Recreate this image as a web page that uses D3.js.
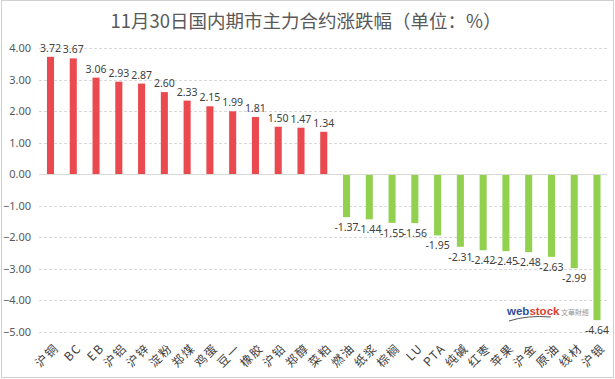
<!DOCTYPE html>
<html>
<head>
<meta charset="utf-8">
<script src="https://cdn.jsdelivr.net/npm/d3@7"></script>
<style>
  body { margin: 0; background: #fff; }
  svg { display: block; font-family: "Noto Sans CJK SC", "Noto Sans", sans-serif; }
</style>
</head>
<body>
<div id="chart"></div>
<script>
const w = 615,
      h = 379;
const categories = ['沪铜', 'BC', 'EB', '沪铝', '沪锌', '淀粉', '郑煤', '鸡蛋', '豆一', '橡胶', '沪铅', '郑醇', '菜粕',
                    '燃油', '纸浆', '棕榈', 'LU', 'PTA', '纯碱', '红枣', '苹果', '沪金', '原油', '线材', '沪银'];
const values = [3.72, 3.67, 3.06, 2.93, 2.87, 2.60, 2.33, 2.15, 1.99, 1.81, 1.50, 1.47, 1.34,
                -1.37, -1.44, -1.55, -1.56, -1.95, -2.31, -2.42, -2.45, -2.48, -2.63, -2.99, -4.64];
const yTicks = [4, 3, 2, 1, 0, -1, -2, -3, -4, -5];

const svg = d3.select('#chart').append('svg')
              .attr('width', w)
              .attr('height', h);

// outer frame
svg.append('rect')
   .attr('x', 1.5).attr('y', 0.5)
   .attr('width', w - 3).attr('height', h - 2)
   .attr('fill', '#fff')
   .attr('stroke', '#d0d0d0');

svg.append('text')
   .attr('x', 306).attr('y', 28)
   .attr('text-anchor', 'middle')
   .attr('font-size', 18.5)
   .attr('fill', '#595959')
   .text('11月30日国内期市主力合约涨跌幅（单位：%）');

const x = d3.scaleBand()
            .domain(categories)
            .range([39, 608.5])
            .paddingInner(0.69)
            .paddingOuter(0.35);

const y = d3.scaleLinear()
            .domain([-5, 4])
            .range([331.5, 48]);

// gridlines
svg.append('g')
   .selectAll('line')
   .data(yTicks.filter(d => d !== 0))
   .enter()
   .append('line')
   .attr('x1', 39).attr('x2', 607)
   .attr('y1', d => Math.round(y(d)) + 0.5)
   .attr('y2', d => Math.round(y(d)) + 0.5)
   .attr('stroke', '#d9d9d9')
   .attr('stroke-dasharray', '3,2');

// y axis labels
const yAxis = d3.axisLeft(y).tickValues(yTicks).tickSize(0).tickPadding(0).tickFormat(d3.format('.2f'));
const gy = svg.append('g').attr('transform', 'translate(31,0)').call(yAxis);
gy.select('.domain').remove();
gy.selectAll('text')
  .attr('font-size', 11)
  .attr('fill', '#595959')
  .attr('font-family', '"Noto Sans", sans-serif');

// bars
svg.append('g')
   .selectAll('rect')
   .data(values)
   .enter()
   .append('rect')
   .attr('x', (d, i) => x(categories[i]))
   .attr('width', x.bandwidth())
   .attr('y', d => d > 0 ? y(d) : y(0))
   .attr('height', d => Math.abs(y(d) - y(0)))
   .attr('fill', d => d > 0 ? '#ea4a4f' : '#92d050');

// zero line
svg.append('line')
   .attr('x1', 39).attr('x2', 607)
   .attr('y1', Math.round(y(0)) + 0.5).attr('y2', Math.round(y(0)) + 0.5)
   .attr('stroke', '#d9d9d9');

// value labels
svg.append('g')
   .selectAll('text')
   .data(values)
   .enter()
   .append('text')
   .attr('x', (d, i) => x(categories[i]) + x.bandwidth() / 2)
   .attr('y', d => d > 0 ? y(d) - 5 : y(d) + 14)
   .attr('text-anchor', 'middle')
   .attr('font-size', 10.5)
   .attr('fill', '#404040')
   .attr('font-family', '"Noto Sans", sans-serif')
   .text(d => d.toFixed(2));

// x labels, rotated
svg.append('g')
   .selectAll('text')
   .data(categories)
   .enter()
   .append('text')
   .attr('transform', d => `translate(${x(d) + x.bandwidth() / 2 + 6},346) rotate(-45)`)
   .attr('text-anchor', 'end')
   .attr('dy', '0.35em')
   .attr('font-size', 12)
   .attr('letter-spacing', 1.5)
   .attr('fill', '#404040')
   .text(d => d);

// watermark
const wm = svg.append('g').attr('transform', 'translate(507,315)');
wm.append('text')
  .attr('font-family', '"Liberation Sans", sans-serif')
  .attr('font-weight', 'bold')
  .attr('font-size', 11.5)
  .selectAll('tspan')
  .data([['web', '#2b4f9e'], ['stock', '#e03c31']])
  .enter()
  .append('tspan')
  .attr('fill', d => d[1])
  .text(d => d[0]);
wm.append('text')
  .attr('x', 54).attr('y', 0)
  .attr('font-size', 7)
  .attr('fill', '#999')
  .text('文華財經');
wm.append('path')
  .attr('d', 'M2,6 Q20,0 44,2')
  .attr('fill', 'none')
  .attr('stroke', '#555')
  .attr('stroke-width', 1);
</script>
</body>
</html>
